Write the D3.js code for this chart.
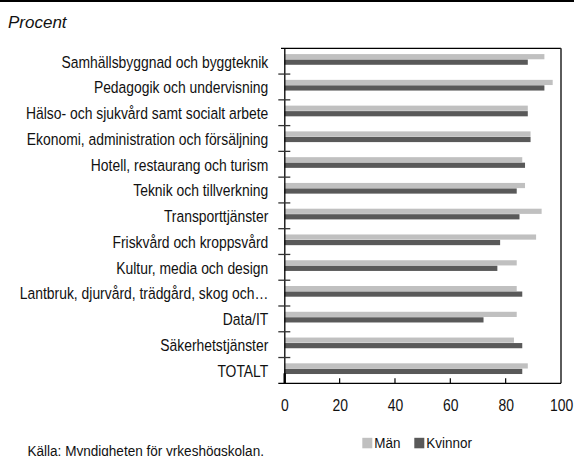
<!DOCTYPE html>
<html>
<head>
<meta charset="utf-8">
<script src="https://cdn.jsdelivr.net/npm/d3@7"></script>
<style>
  html, body { margin: 0; padding: 0; background: #fff; }
  svg { display: block; }
  .narrow { font-family: "Liberation Sans", Arial, sans-serif; fill: #111; }
</style>
</head>
<body>
<svg id="chart" width="574" height="456"></svg>
<script>
// Andel (procent) per utbildningsområde, män och kvinnor
const categories = [
  "Samhällsbyggnad och byggteknik",
  "Pedagogik och undervisning",
  "Hälso- och sjukvård samt socialt arbete",
  "Ekonomi, administration och försäljning",
  "Hotell, restaurang och turism",
  "Teknik och tillverkning",
  "Transporttjänster",
  "Friskvård och kroppsvård",
  "Kultur, media och design",
  "Lantbruk, djurvård, trädgård, skog och…",
  "Data/IT",
  "Säkerhetstjänster",
  "TOTALT"
];
const man     = [94, 97, 88, 89, 86, 87, 93, 91, 84, 84, 84, 83, 88];
const kvinnor = [88, 94, 88, 89, 87, 84, 85, 78, 77, 86, 72, 86, 86];
const seriesNames = ["Män", "Kvinnor"];
const seriesColors = ["#c0c0c0", "#595959"];
const xTicks = [0, 20, 40, 60, 80, 100];

const svg = d3.select("#chart");

// Rule across the top of the figure
svg.append("rect").attr("x", 0).attr("y", 0).attr("width", 574).attr("height", 2).attr("fill", "#000");

// Unit title
svg.append("text")
  .attr("x", 8).attr("y", 28)
  .attr("font-family", "Liberation Sans, Arial, sans-serif")
  .attr("font-style", "italic")
  .attr("font-size", 17)
  .attr("fill", "#111")
  .text("Procent");

const plotLeft = 284.3, plotRight = 561, plotTop = 48.3, plotBottom = 383.3;

const x = d3.scaleLinear().domain([0, 100]).range([plotLeft, plotRight]);
const y = d3.scaleBand().domain(categories).range([plotTop, plotBottom]).padding(0);
const barH = 5.5;
const sub = d3.scaleBand().domain(seriesNames).range([0, barH * 2]).padding(0);

const rows = categories.map((c, i) => ({ cat: c, values: [man[i], kvinnor[i]] }));

// Bars
const groups = svg.append("g").selectAll("g").data(rows).join("g")
  .attr("transform", d => `translate(0,${y(d.cat) + (y.bandwidth() - barH * 2) / 2 - 1.6})`);

groups.selectAll("rect")
  .data(d => d.values.map((v, k) => ({ name: seriesNames[k], v, k })))
  .join("rect")
  .attr("x", x(0))
  .attr("y", d => sub(d.name))
  .attr("width", d => x(d.v) - x(0))
  .attr("height", sub.bandwidth() - 0.3)
  .attr("fill", d => seriesColors[d.k]);

// Frame: top and right edges
svg.append("line").attr("x1", 281).attr("x2", plotRight).attr("y1", plotTop).attr("y2", plotTop)
  .attr("stroke", "#000").attr("stroke-width", 1.2);
svg.append("line").attr("x1", plotRight).attr("x2", plotRight).attr("y1", plotTop).attr("y2", plotBottom)
  .attr("stroke", "#333").attr("stroke-width", 1.6);

// Category axis (condensed labels: horizontally compressed sans)
const yAxis = d3.axisLeft(y).tickSize(0).tickPadding(16).tickSizeOuter(0);
const yg = svg.append("g").attr("transform", `translate(${plotLeft},0)`).call(yAxis);
yg.select(".domain").attr("stroke", "#000").attr("stroke-width", 1.3);
yg.selectAll(".tick text")
  .attr("class", "narrow")
  .attr("font-size", 16.3)
  .attr("x", 0)
  .attr("dy", "0.39em")
  .attr("transform", `translate(${-(plotLeft - 268.3)},0) scale(0.853,1)`);

// Band separators crossing the category axis
const bounds = categories.slice(1).map(c => y(c));
svg.append("g").selectAll("line").data(bounds).join("line")
  .attr("x1", plotLeft - 6).attr("x2", plotLeft + 6)
  .attr("y1", d => d).attr("y2", d => d)
  .attr("stroke", "#333").attr("stroke-width", 1.3);

// Value axis
const xAxis = d3.axisBottom(x).tickValues(xTicks).tickSize(0).tickPadding(16).tickSizeOuter(0);
const xg = svg.append("g").attr("transform", `translate(0,${plotBottom})`).call(xAxis);
xg.select(".domain").remove();
xg.selectAll(".tick text")
  .attr("class", "narrow")
  .attr("font-size", 17)
  .attr("dy", "0.71em")
  .attr("transform", "scale(0.82,1)");
svg.append("line").attr("x1", plotLeft - 6).attr("x2", plotRight).attr("y1", plotBottom).attr("y2", plotBottom)
  .attr("stroke", "#000").attr("stroke-width", 1.3);
svg.append("g").selectAll("line").data(xTicks.slice(1, -1)).join("line")
  .attr("x1", d => x(d)).attr("x2", d => x(d))
  .attr("y1", plotBottom - 5).attr("y2", plotBottom)
  .attr("stroke", "#000").attr("stroke-width", 1.2);
// Thicker stub at the origin
svg.append("rect").attr("x", plotLeft - 0.8).attr("y", plotBottom - 10).attr("width", 2.4).attr("height", 10).attr("fill", "#000");

// Legend
const legendX = [362.3, 414.3];
const lg = svg.append("g").selectAll("g").data(seriesNames).join("g")
  .attr("transform", (d, i) => `translate(${legendX[i]},437.8)`);
lg.append("rect").attr("width", 10).attr("height", 10.5).attr("fill", (d, i) => seriesColors[i]);
lg.append("text").attr("class", "narrow")
  .attr("transform", "translate(12,10.5) scale(0.87,1)")
  .attr("font-size", 15.5).text(d => d);

// Source
svg.append("text").attr("class", "narrow")
  .attr("transform", "translate(27.5,455.6) scale(0.875,1)")
  .attr("font-size", 15.5)
  .text("Källa: Myndigheten för yrkeshögskolan.");
</script>
</body>
</html>
